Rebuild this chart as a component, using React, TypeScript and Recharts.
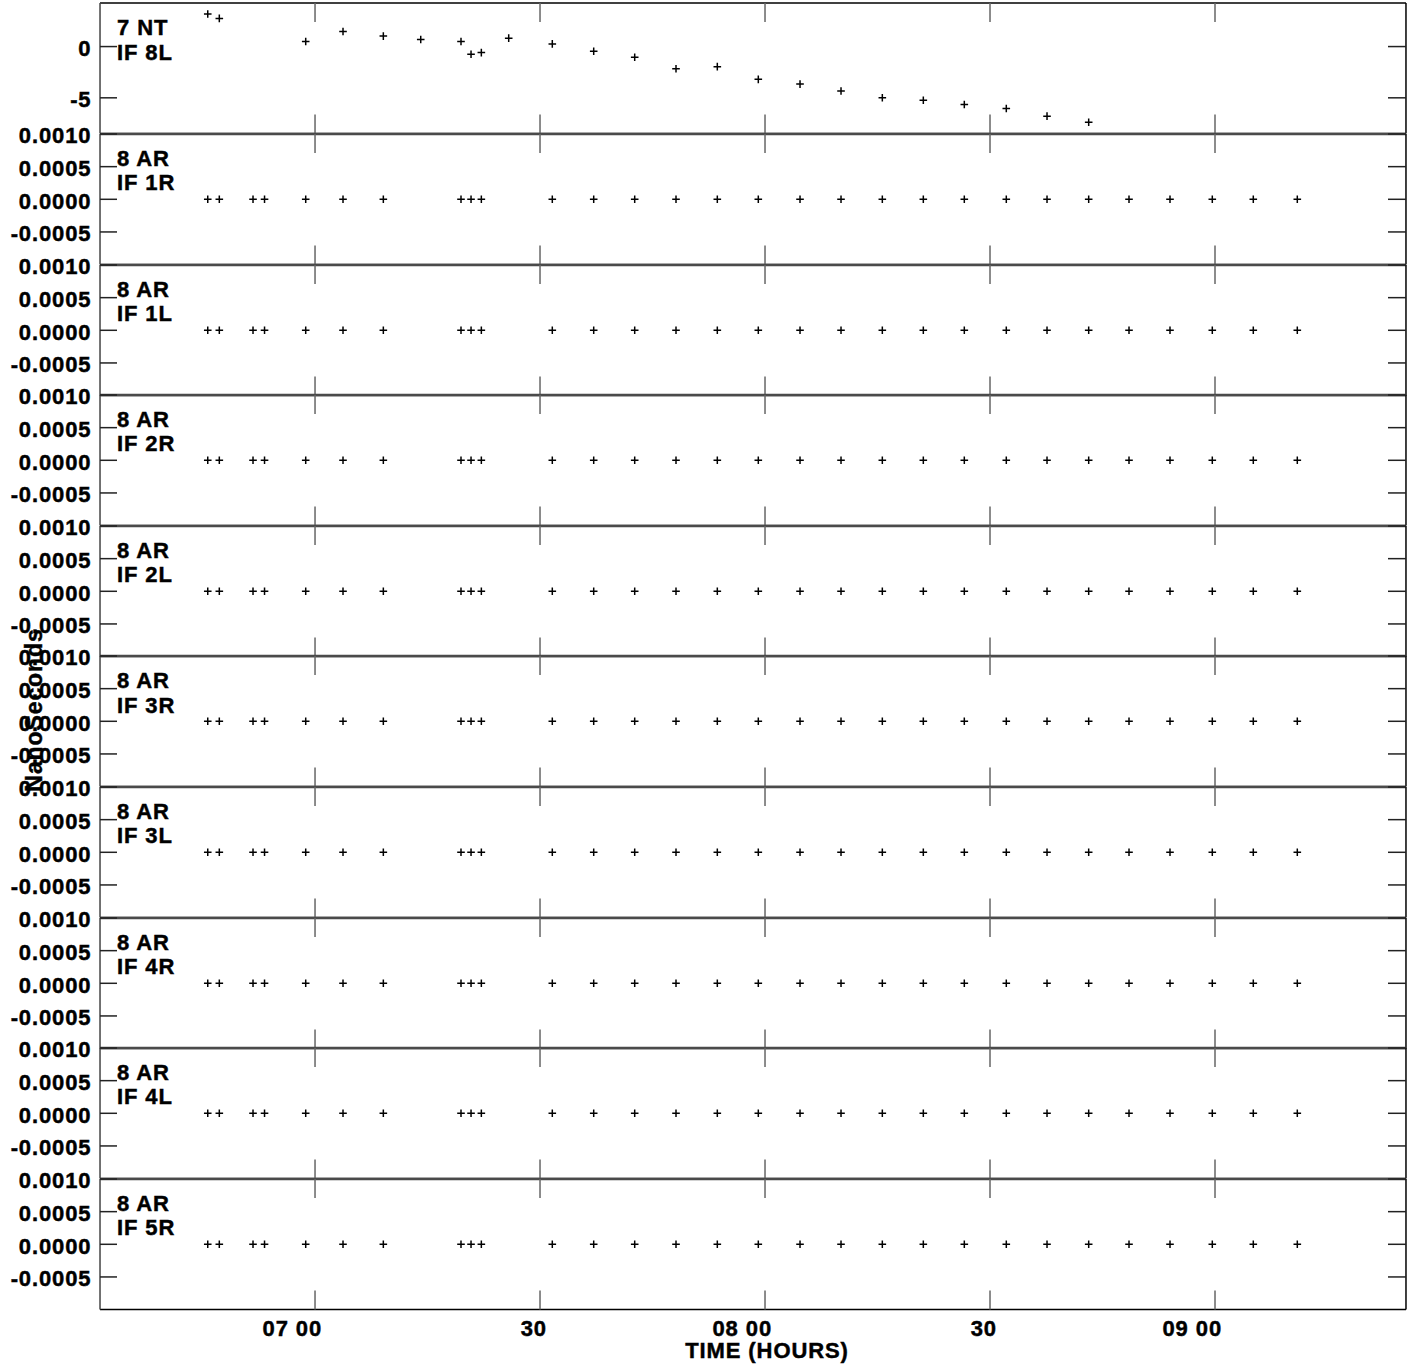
import React from 'react';
import { ScatterChart, Scatter, XAxis, YAxis } from 'recharts';

// ---------- data ----------
const timeTickValues = [7, 7.5, 8, 8.5, 9];
const timeTickLabels = ['07 00', '30', '08 00', '30', '09 00'];

// 7 NT, IF 8L (nanoseconds)
const ntTimes = [
  6.7616, 6.7873, 6.9793, 7.0622, 7.1518, 7.2349, 7.3244, 7.3467, 7.3696, 7.4304,
  7.5273, 7.6193, 7.7104, 7.8022, 7.894, 7.9851, 8.0778, 8.1689, 8.2607, 8.3518,
  8.4429, 8.5362, 8.6267, 8.7193,
];
const ntDelays = [
  3.18, 2.75, 0.49, 1.47, 1.02, 0.69, 0.49, -0.75, -0.59, 0.82,
  0.26, -0.45, -1.04, -2.16, -1.96, -3.2, -3.66, -4.34, -5.0, -5.23,
  -5.65, -6.04, -6.79, -7.38,
];

// 8 AR, all IFs (nanoseconds)
const arTimes = [
  6.7616, 6.7873, 6.8622, 6.8878, 6.9793, 7.0622, 7.1518, 7.3244, 7.3467, 7.3696,
  7.5273, 7.6193, 7.7104, 7.8022, 7.894, 7.9851, 8.0778, 8.1689, 8.2607, 8.3518,
  8.4429, 8.5362, 8.6267, 8.7193, 8.8089, 8.9, 8.994, 9.0851, 9.1829,
];
const arDelays = [
  0, 0, 0, 0, 0, 0, 0, 0, 0, 0,
  0, 0, 0, 0, 0, 0, 0, 0, 0, 0,
  0, 0, 0, 0, 0, 0, 0, 0, 0,
];

const panelStations = ['7 NT', '8 AR', '8 AR', '8 AR', '8 AR', '8 AR', '8 AR', '8 AR', '8 AR', '8 AR'];
const panelIFs = ['IF 8L', 'IF 1R', 'IF 1L', 'IF 2R', 'IF 2L', 'IF 3R', 'IF 3L', 'IF 4R', 'IF 4L', 'IF 5R'];

const ntDomain = [-8.49, 4.25];
const ntTicks = [0, -5];
const arDomain = [-0.001, 0.001];
const arTicks = [0.001, 0.0005, 0, -0.0005];
const timeDomain = [6.5222, 9.4244];

// ---------- layout / style ----------
const FONT = '"Liberation Sans", Arial, Helvetica, sans-serif';
const PANEL_TOP = 3.3;
const PANEL_H = 130.6;
const PAD = 20;
const BOTTOM_EXTRA = 60;
const CHART_W = 1417;
const LEFT_W = 100;
const RIGHT_W = 11;
const XAXIS_H = 1;

const textStyle = {
  fontFamily: FONT,
  fontWeight: 'bold' as const,
  fontSize: 22,
  letterSpacing: 0.9,
  fill: '#000',
  stroke: '#000',
  strokeWidth: 0.45,
};

function Plus(props: any) {
  const { cx, cy } = props;
  if (cx == null || cy == null || isNaN(cx) || isNaN(cy)) return <g />;
  return (
    <path
      d={`M${cx - 3.8},${cy}H${cx + 3.8}M${cx},${cy - 3.8}V${cy + 3.8}`}
      stroke="#000"
      strokeWidth={1.5}
      fill="none"
    />
  );
}

const Nothing = () => <g />;

const makeLeftTick = (fmt: (v: number) => string) => (props: any) => {
  const { x, y, payload } = props;
  return (
    <g>
      <line x1={x} y1={y} x2={x + 17} y2={y} stroke="#222" strokeWidth={1.5} />
      <text x={x - 8.5} y={y + 9.4} textAnchor="end" {...textStyle}>
        {fmt(payload.value)}
      </text>
    </g>
  );
};

const RightTick = (props: any) => {
  const { x, y } = props;
  return <line x1={x} y1={y} x2={x - 18} y2={y} stroke="#222" strokeWidth={1.5} />;
};

const TopTick = (props: any) => {
  const { x, y } = props;
  return <line x1={x} y1={y} x2={x} y2={y + 19} stroke="#666" strokeWidth={1.5} />;
};

const BottomTick = (props: any) => {
  const { x, y } = props;
  return <line x1={x} y1={y} x2={x} y2={y - 19} stroke="#666" strokeWidth={1.5} />;
};

const BottomTickLabeled = (props: any) => {
  const { x, y, payload } = props;
  const i = timeTickValues.indexOf(payload.value);
  return (
    <g>
      <line x1={x} y1={y} x2={x} y2={y - 19} stroke="#666" strokeWidth={1.5} />
      <text x={x + 7} y={y + 26.4} textAnchor="end" {...textStyle}>
        {timeTickLabels[i]}
      </text>
    </g>
  );
};

const fmtNt = (v: number) => String(v);
const fmtAr = (v: number) => v.toFixed(4);

function Panel({ index }: { index: number }) {
  const isNt = index === 0;
  const isLast = index === panelIFs.length - 1;
  const times = isNt ? ntTimes : arTimes;
  const vals = isNt ? ntDelays : arDelays;
  const data = times.map((t, i) => ({ t, v: vals[i] }));
  const domain = isNt ? ntDomain : arDomain;
  const ticks = isNt ? ntTicks : arTicks;
  const top = PANEL_TOP + index * PANEL_H - PAD;
  const height = PANEL_H + 2 * PAD + (isLast ? BOTTOM_EXTRA : 0);

  return (
    <div style={{ position: 'absolute', left: 0, top, width: CHART_W, height }}>
      <ScatterChart
        width={CHART_W}
        height={height}
        margin={{
          top: PAD - XAXIS_H,
          bottom: PAD - XAXIS_H + (isLast ? BOTTOM_EXTRA : 0),
          left: 0,
          right: 0,
        }}
      >
        <XAxis
          xAxisId="b"
          orientation="bottom"
          type="number"
          dataKey="t"
          domain={timeDomain}
          allowDataOverflow
          ticks={timeTickValues}
          interval={0}
          height={XAXIS_H}
          tickSize={0}
          tickMargin={0}
          tickLine={false}
          axisLine={isLast ? { stroke: '#000', strokeWidth: 1.5 } : { stroke: '#333', strokeWidth: 1.5 }}
          tick={isLast ? BottomTickLabeled : BottomTick}
        />
        <XAxis
          xAxisId="t"
          orientation="top"
          type="number"
          dataKey="t"
          domain={timeDomain}
          allowDataOverflow
          ticks={timeTickValues}
          interval={0}
          height={XAXIS_H}
          tickSize={0}
          tickMargin={0}
          tickLine={false}
          axisLine={index === 0 ? { stroke: '#000', strokeWidth: 1.5 } : { stroke: '#4a4a4a', strokeWidth: 2.6 }}
          tick={TopTick}
        />
        <YAxis
          yAxisId="l"
          orientation="left"
          type="number"
          dataKey="v"
          domain={domain}
          allowDataOverflow
          ticks={ticks}
          interval={0}
          width={LEFT_W}
          tickSize={0}
          tickMargin={0}
          tickLine={false}
          axisLine={{ stroke: '#444', strokeWidth: 1.5 }}
          tick={makeLeftTick(isNt ? fmtNt : fmtAr)}
        />
        <YAxis
          yAxisId="r"
          orientation="right"
          type="number"
          dataKey="v"
          domain={domain}
          allowDataOverflow
          ticks={ticks}
          interval={0}
          width={RIGHT_W}
          tickSize={0}
          tickMargin={0}
          tickLine={false}
          axisLine={{ stroke: '#000', strokeWidth: 1.5 }}
          tick={RightTick}
        />
        <Scatter
          xAxisId="b"
          yAxisId="l"
          data={data}
          shape={Plus}
          isAnimationActive={false}
        />
        <Scatter
          xAxisId="t"
          yAxisId="r"
          data={data}
          shape={Nothing}
          isAnimationActive={false}
          legendType="none"
        />
      </ScatterChart>
    </div>
  );
}

export default function App() {
  return (
    <div style={{ position: 'absolute', left: 0, top: 0, width: 1417, height: 1368, background: '#fff' }}>
      {panelIFs.map((_, i) => (
        <Panel key={i} index={i} />
      ))}
      <svg
        width={1417}
        height={1368}
        style={{ position: 'absolute', left: 0, top: 0, pointerEvents: 'none' }}
      >
        {panelIFs.map((ifName, i) => {
          const t = PANEL_TOP + i * PANEL_H;
          return (
            <g key={i}>
              <text x={117} y={t + 32} {...textStyle}>
                {panelStations[i]}
              </text>
              <text x={117} y={t + 56.3} {...textStyle}>
                {ifName}
              </text>
            </g>
          );
        })}
        <text x={767} y={1358.3} textAnchor="middle" {...textStyle}>
          TIME (HOURS)
        </text>
        <text
          transform="translate(42,710) rotate(-90)"
          textAnchor="middle"
          {...textStyle}
          fontSize={23}
        >
          NanoSeconds
        </text>
      </svg>
    </div>
  );
}
